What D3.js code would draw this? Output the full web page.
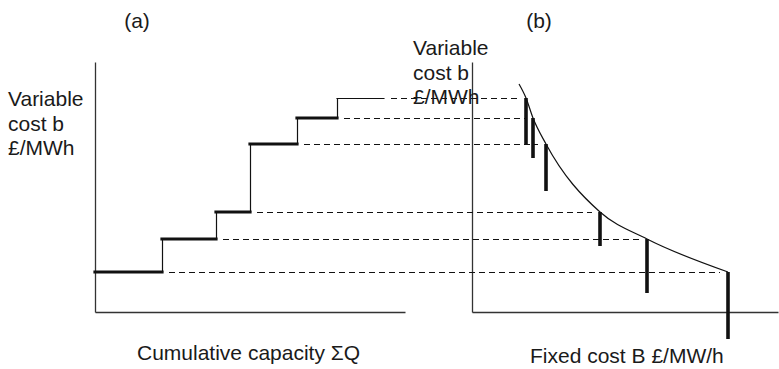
<!DOCTYPE html>
<html>
<head>
<meta charset="utf-8">
<script src="https://cdn.jsdelivr.net/npm/d3@7"></script>
<style>
  html, body { margin: 0; padding: 0; background: #fff; }
  svg text { font-family: "Liberation Sans", Arial, Helvetica, sans-serif; fill: #1a1a1a; }
</style>
</head>
<body>
<svg id="chart" width="779" height="369"></svg>
<script>
// Merit-order plants: capacity of each plant (block width), its variable cost b
// and its fixed cost B. Plants are listed from cheapest to dearest variable cost.
const plants = ["P1", "P2", "P3", "P4", "P5", "P6"];
const capacity = [67, 54, 34, 47, 40, 47];
const variableCost = [40, 73, 100, 168, 194, 214];
const fixedCost = [256, 175, 128, 74, 61, 54];
// Plants whose block sits on the thick (dispatched) part of the supply stack
const dispatched = [true, true, true, true, true, false];

// Trade-off curve between fixed cost B and variable cost b
const curveFixed = [47, 54, 61, 74, 128, 175, 256];
const curveVariable = [228, 214, 194, 168, 100, 73, 40];

const panelTitles = ["(a)", "(b)"];
const yLabelLines = ["Variable", "cost b", "£/MWh"];
const xLabelA = "Cumulative capacity ΣQ";
const xLabelB = "Fixed cost B £/MW/h";

const svg = d3.select("#chart");

// Shared vertical scale (variable cost)
const y = d3.scaleLinear().domain([0, 250]).range([312, 62]);
// Panel (a): cumulative capacity
const xa = d3.scaleLinear().domain([0, 310]).range([95, 405]);
// Panel (b): fixed cost
const xb = d3.scaleLinear().domain([0, 306]).range([472, 778]);
// Bar length in (b) equals plant capacity, using the vertical scale's units
const len = v => y(0) - y(v);
// half-pixel nudge so 1px lines render crisply
const crisp = v => Math.round(v) + 0.5;

const cum = d3.cumsum(capacity);
const starts = cum.map((c, i) => c - capacity[i]);

// Axes without ticks
function axes(g, xs) {
  g.append("g").attr("transform", `translate(0,${y(0)})`)
    .call(d3.axisBottom(xs).tickValues([]).tickSizeOuter(0))
    .select(".domain").attr("stroke", "#333").attr("stroke-width", 1.3);
  g.append("g").attr("transform", `translate(${xs(0)},0)`)
    .call(d3.axisLeft(y).tickValues([]).tickSizeOuter(0))
    .select(".domain").attr("stroke", "#333").attr("stroke-width", 1.3);
}
axes(svg.append("g"), xa);
axes(svg.append("g"), xb);

// Dashed links from each supply step across to its plant bar
svg.append("g").selectAll("line").data(plants).join("line")
  .attr("x1", (d, i) => xa(cum[i]) + 7)
  .attr("x2", (d, i) => xb(fixedCost[i]) - 8)
  .attr("y1", (d, i) => crisp(y(variableCost[i])))
  .attr("y2", (d, i) => crisp(y(variableCost[i])))
  .attr("stroke", "#111").attr("stroke-width", 1)
  .attr("stroke-dasharray", "6,4");

// Supply stack: risers (thin) and step treads
const risers = svg.append("g");
plants.forEach((d, i) => {
  if (i > 0) {
    risers.append("line")
      .attr("x1", crisp(xa(starts[i]))).attr("x2", crisp(xa(starts[i])))
      .attr("y1", y(variableCost[i - 1])).attr("y2", y(variableCost[i]))
      .attr("stroke", "#111").attr("stroke-width", 1.2);
  }
});
svg.append("g").selectAll("line").data(plants).join("line")
  .attr("x1", (d, i) => xa(starts[i]))
  .attr("x2", (d, i) => xa(cum[i]))
  .attr("y1", (d, i) => dispatched[i] ? y(variableCost[i]) : crisp(y(variableCost[i])))
  .attr("y2", (d, i) => dispatched[i] ? y(variableCost[i]) : crisp(y(variableCost[i])))
  .attr("stroke", "#111")
  .attr("stroke-width", (d, i) => dispatched[i] ? 3.2 : 1.1)
  .attr("stroke-linecap", "square");

// Curve in panel (b)
const curvePts = curveFixed.map((B, i) => [B, curveVariable[i]]);
svg.append("path")
  .attr("d", d3.line().x(d => xb(d[0])).y(d => y(d[1])).curve(d3.curveMonotoneX)(curvePts))
  .attr("fill", "none").attr("stroke", "#111").attr("stroke-width", 1.2);

// Plant bars hanging from the curve, length = capacity
svg.append("g").selectAll("line").data(plants).join("line")
  .attr("x1", (d, i) => xb(fixedCost[i]))
  .attr("x2", (d, i) => xb(fixedCost[i]))
  .attr("y1", (d, i) => y(variableCost[i]))
  .attr("y2", (d, i) => y(variableCost[i]) + len(capacity[i]))
  .attr("stroke", "#111").attr("stroke-width", 3.6);

// Text
const fs = 21;
svg.append("text").attr("x", 137).attr("y", 28).attr("text-anchor", "middle")
  .attr("font-size", fs).text(panelTitles[0]);
svg.append("text").attr("x", 539).attr("y", 28).attr("text-anchor", "middle")
  .attr("font-size", fs).text(panelTitles[1]);

function yLabel(x, y0) {
  const t = svg.append("text").attr("font-size", fs);
  yLabelLines.forEach((s, i) => {
    t.append("tspan").attr("x", x).attr("y", y0 + i * 24.5).text(s);
  });
}
yLabel(8, 106);
yLabel(413, 55);

svg.append("text").attr("x", 137).attr("y", 360).attr("font-size", fs).text(xLabelA);
svg.append("text").attr("x", 530).attr("y", 363).attr("font-size", fs).text(xLabelB);
</script>
</body>
</html>
